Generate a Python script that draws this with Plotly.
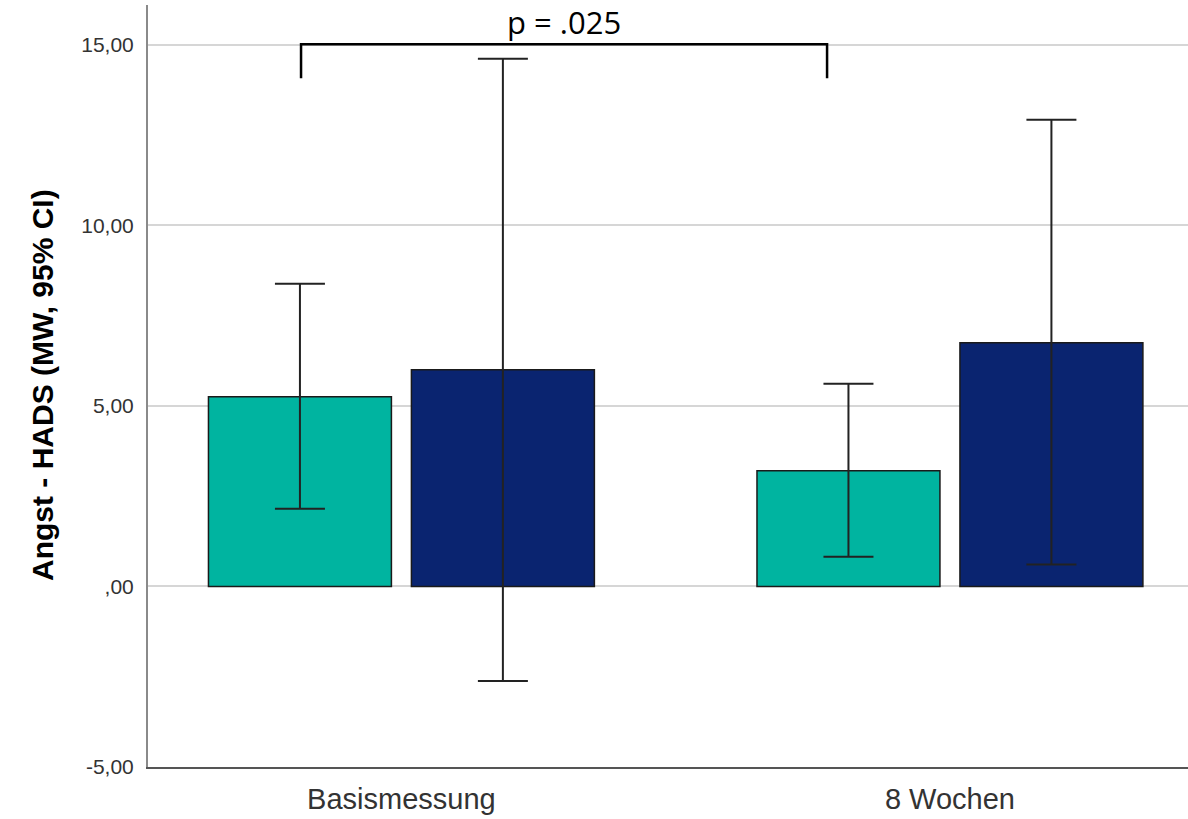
import plotly.graph_objects as go

# ---- data ----
categories = ["Basismessung", "8 Wochen"]
group1_mean = [5.25, 3.20]
group1_upper = [8.38, 5.61]
group1_lower = [2.15, 0.82]
group2_mean = [6.00, 6.75]
group2_upper = [14.61, 12.92]
group2_lower = [-2.62, 0.61]
y_ticks = [-5, 0, 5, 10, 15]
y_tick_labels = ["-5,00", ",00", "5,00", "10,00", "15,00"]
y_title = "Angst - HADS (MW, 95% CI)"
p_label = "p = .025"

# ---- styling ----
TEAL = "#00B4A0"
NAVY = "#0A2470"
OUTLINE = "#1a1a1a"


def err(mean, upper, lower):
    return dict(
        type="data",
        symmetric=False,
        array=[u - m for u, m in zip(upper, mean)],
        arrayminus=[m - l for m, l in zip(mean, lower)],
        color="#222222",
        thickness=2,
        width=25,
    )


fig = go.Figure()
fig.add_trace(go.Bar(
    x=categories, y=group1_mean, name="Gruppe 1",
    marker=dict(color=TEAL, line=dict(color=OUTLINE, width=1.5)),
    error_y=err(group1_mean, group1_upper, group1_lower),
    showlegend=False,
))
fig.add_trace(go.Bar(
    x=categories, y=group2_mean, name="Gruppe 2",
    marker=dict(color=NAVY, line=dict(color=OUTLINE, width=1.5)),
    error_y=err(group2_mean, group2_upper, group2_lower),
    showlegend=False,
))

# significance bracket
bx0, bx1 = -0.183, 0.776
by_top, by_leg = 15.01, 14.07
fig.add_shape(
    type="path",
    path=f"M {bx0},{by_leg} L {bx0},{by_top} L {bx1},{by_top} L {bx1},{by_leg}",
    xref="x", yref="y",
    line=dict(color="black", width=2.5),
)
fig.add_annotation(
    x=(bx0 + bx1) / 2, y=15.62, xref="x", yref="y",
    text=p_label, showarrow=False, yanchor="middle", xanchor="center",
    font=dict(family="Open Sans", size=31, color="black"),
)

# y-axis title as rotated annotation (pixel position converted to paper)
plot_w = 1188 - 148
plot_h = 819 - 5 - 52
fig.add_annotation(
    x=(42 - 148) / plot_w, y=1 - (385 - 5) / plot_h,
    xref="paper", yref="paper",
    text=f"<b>{y_title}</b>", showarrow=False, textangle=-90,
    font=dict(family="Liberation Sans, Arial", size=30, color="black"),
    xanchor="center", yanchor="middle",
)

fig.update_layout(
    width=1188, height=819,
    margin=dict(l=148, r=0, t=5, b=52),
    paper_bgcolor="white", plot_bgcolor="white",
    barmode="group", bargap=0.260, bargroupgap=0.0985,
    font=dict(family="Liberation Sans, Arial", color="#333333"),
)
fig.update_xaxes(
    range=[-0.462, 1.434],
    showgrid=False,
    showline=True, linecolor="#555555", linewidth=2,
    ticks="", tickfont=dict(size=29, color="#333333"),
    ticklabelstandoff=5,
)
fig.update_yaxes(
    range=[-5, 16.1],
    tickvals=y_ticks, ticktext=y_tick_labels,
    showgrid=True, gridcolor="#d6d6d6", gridwidth=2,
    showline=True, linecolor="#8a8a8a", linewidth=2,
    zeroline=False,
    ticks="", tickfont=dict(size=21, color="#333333"),
    ticklabelstandoff=8,
)

fig.write_html("out.html")
